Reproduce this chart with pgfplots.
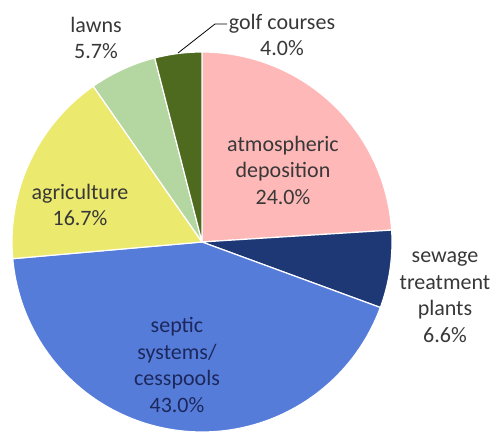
\documentclass[border=0pt]{standalone}
\usepackage{pgfplots}
\pgfplotsset{compat=1.18}
\usepackage{fontspec}
\setmainfont{Carlito}
\definecolor{atmo}{RGB}{255,184,184}
\definecolor{sewage}{RGB}{30,56,118}
\definecolor{septic}{RGB}{86,124,218}
\definecolor{agri}{RGB}{236,234,110}
\definecolor{lawn}{RGB}{180,214,160}
\definecolor{golf}{RGB}{78,106,30}
\definecolor{txt}{RGB}{56,56,56}
\definecolor{txtb}{RGB}{28,40,92}
% shares in percent, clockwise from 12 o'clock
\pgfmathsetmacro\aA{90}
\pgfmathsetmacro\aB{\aA-24.0*3.6}
\pgfmathsetmacro\aC{\aB-6.6*3.6}
\pgfmathsetmacro\aD{\aC-43.0*3.6}
\pgfmathsetmacro\aE{\aD-16.7*3.6}
\pgfmathsetmacro\aF{\aE-5.7*3.6}
\pgfmathsetmacro\aG{\aF-4.0*3.6}
\newcommand{\slice}[3]{%
  \addplot[fill=#3, draw=white, line width=1.2pt, line join=round,
    domain=#2:#1, samples=90, variable=\t]
    ({202+190*cos(\t)},{189+190*sin(\t)}) -- (axis cs:202,189) -- cycle;
}
\tikzset{lbl/.style={font=\fontsize{22}{26.5}\selectfont, align=center, text=txt, inner sep=0pt}}
\begin{document}
\begin{tikzpicture}
\useasboundingbox (0,0) rectangle (495pt,431pt);
\begin{axis}[
  at={(0,0)}, anchor=south west,
  scale only axis, width=495pt, height=431pt,
  xmin=0, xmax=495, ymin=0, ymax=431,
  hide axis, clip=true,
]
\slice{\aA}{\aB}{atmo}
\slice{\aB}{\aC}{sewage}
\slice{\aC}{\aD}{septic}
\slice{\aD}{\aE}{agri}
\slice{\aE}{\aF}{lawn}
\slice{\aF}{\aG}{golf}
\addplot[black, line width=0.8pt, mark=none] coordinates {(178,378) (215,407) (227,407)};
\node[lbl] at (axis cs:283,261) {atmospheric\\deposition\\24.0\%};
\node[lbl] at (axis cs:445,134) {sewage\\treatment\\plants\\6.6\%};
\node[lbl, text=txtb] at (axis cs:177,66) {septic\\systems/\\cesspools\\43.0\%};
\node[lbl] at (axis cs:80,226) {agriculture\\16.7\%};
\node[lbl] at (axis cs:96,393) {lawns\\5.7\%};
\node[lbl] at (axis cs:282,396) {golf courses\\4.0\%};
\end{axis}
\end{tikzpicture}
\end{document}
